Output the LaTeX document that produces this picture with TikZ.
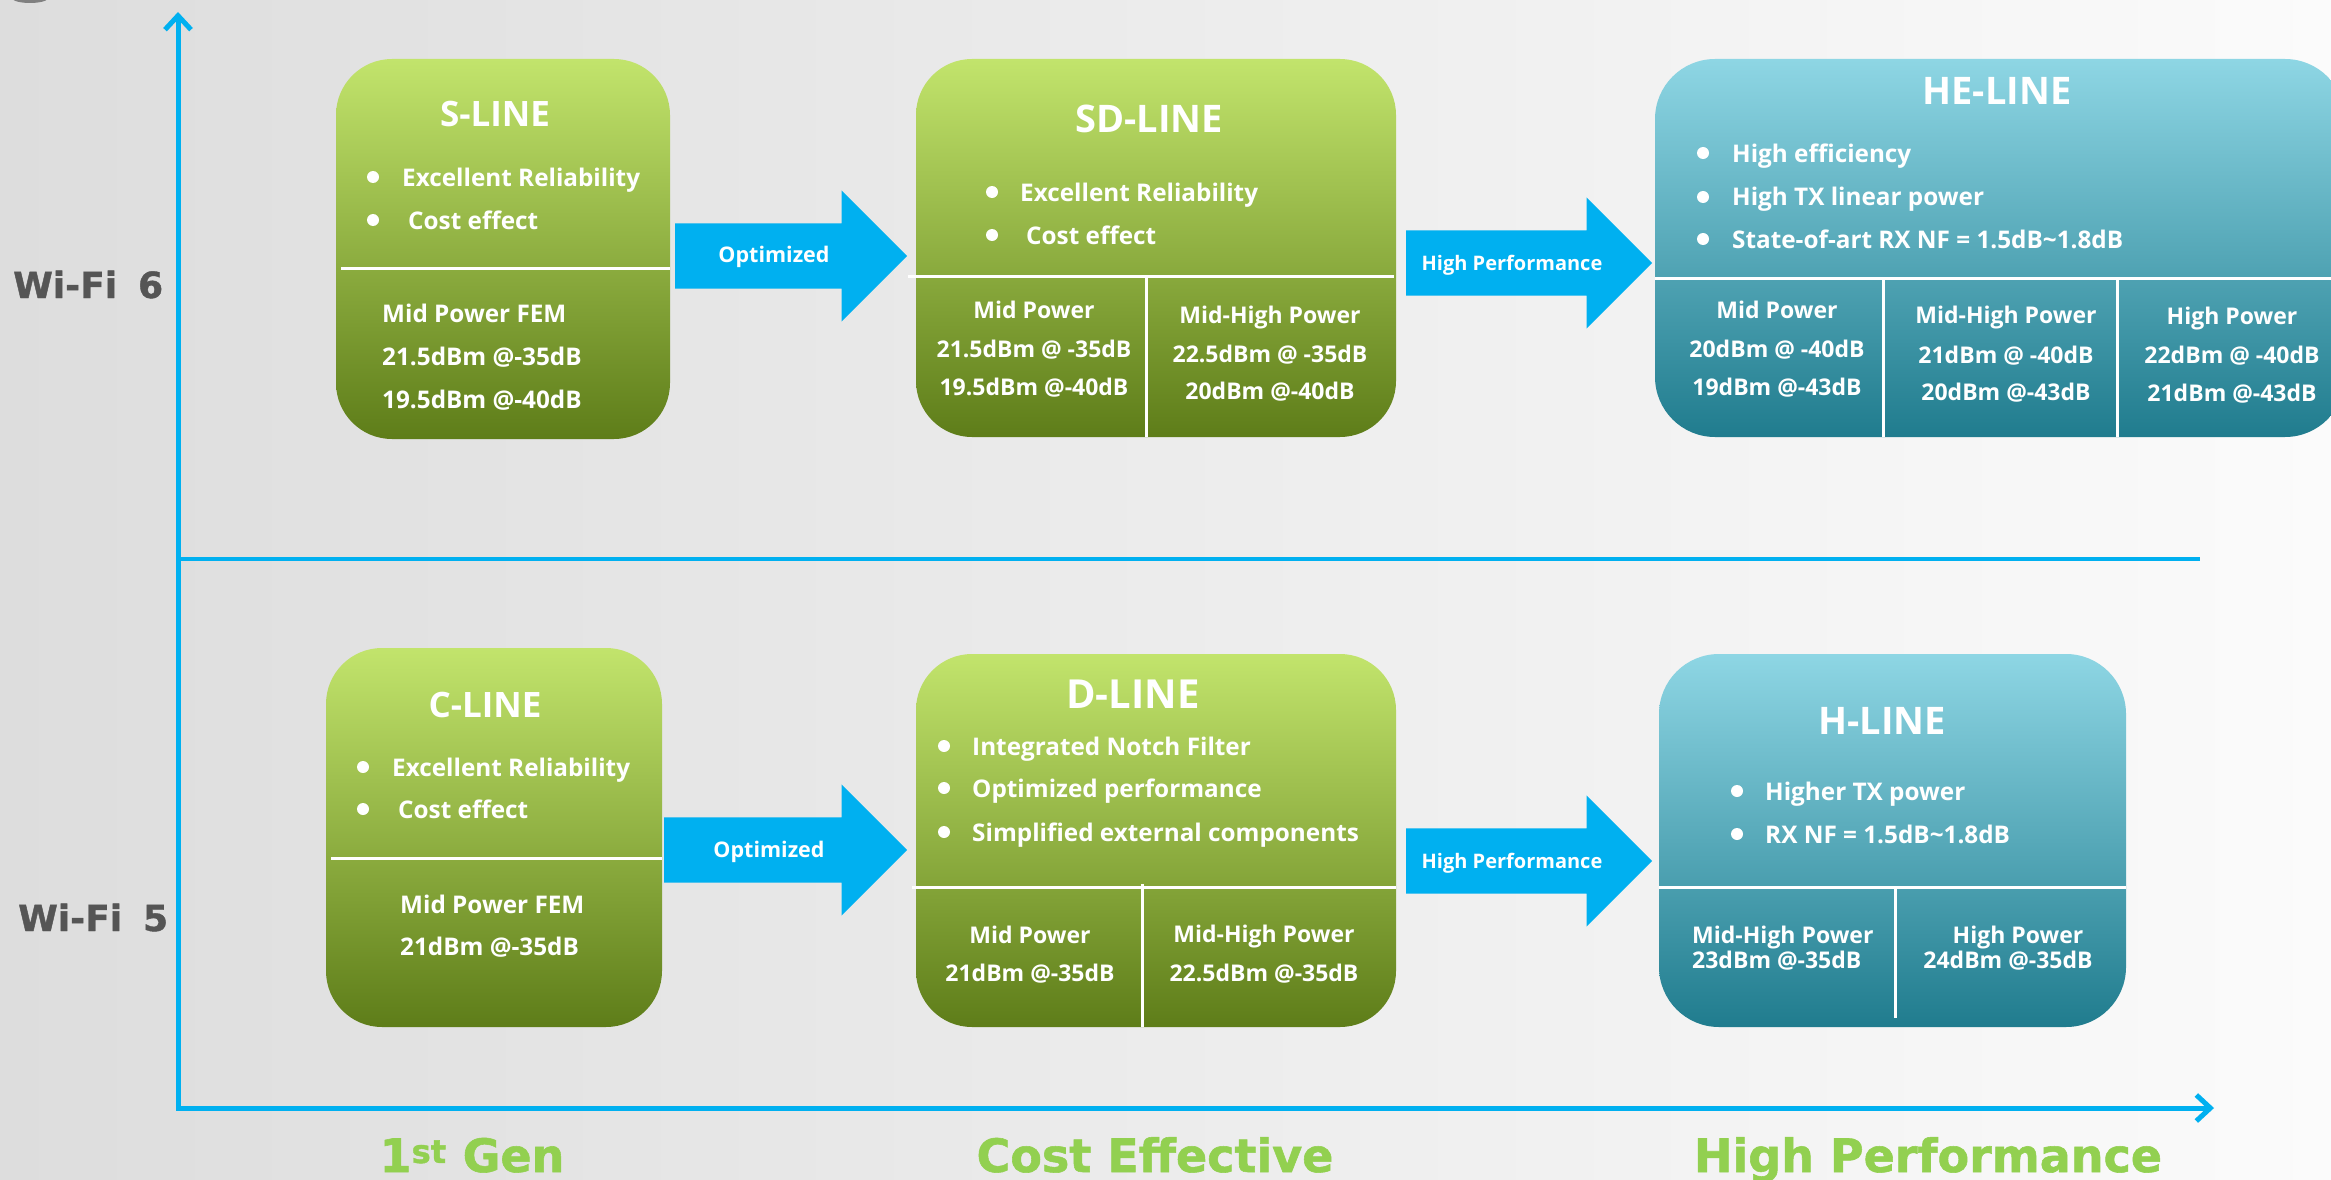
\documentclass[tikz,border=0pt]{standalone}
\usepackage{fontspec}
\setmainfont{Open Sans}
\newfontfamily\heavyfont{DejaVu Sans}[BoldFeatures={FakeBold=1.2}]
\usetikzlibrary{arrows.meta,shapes.arrows}

\definecolor{axisblue}{RGB}{0,176,240}
\definecolor{gtop}{RGB}{194,228,108}
\definecolor{gmid}{RGB}{153,196,36}
\definecolor{gbot}{RGB}{94,125,25}
\definecolor{btop}{RGB}{142,214,228}
\definecolor{bmid}{RGB}{70,186,212}
\definecolor{bbot}{RGB}{32,124,142}
\definecolor{gentext}{RGB}{146,208,80}
\definecolor{wifitext}{RGB}{85,85,85}
\definecolor{bgleft}{RGB}{221,221,221}
\definecolor{bgright}{RGB}{251,251,251}

\begin{document}
\begin{tikzpicture}[x=1pt,y=-1pt,
  every node/.style={inner sep=0pt,text=white,font=\bfseries},
  greenbox/.style={rounded corners=56pt,top color=gtop,middle color=gmid,bottom color=gbot},
  bluebox/.style={rounded corners=60pt,top color=btop,middle color=bmid,bottom color=bbot},
  title/.style={anchor=base,font=\bfseries\fontsize{38}{40}\selectfont},
  item/.style={anchor=base west,font=\bfseries\fontsize{24.3}{30}\selectfont},
  cell/.style={anchor=base,font=\bfseries\fontsize{23}{28}\selectfont},
  split/.style={white,line width=3pt},
  axis/.style={axisblue,line width=5pt},
  flow/.style={single arrow,fill=axisblue,anchor=tail,minimum height=232pt,
    inner ysep=32.5pt,single arrow head extend=33pt,single arrow tip angle=90},
  flowtext/.style={anchor=base,font=\bfseries\fontsize{21.5}{24}\selectfont},
  wifi/.style={anchor=base west,text=wifitext,font=\heavyfont\bfseries\fontsize{36}{40}\selectfont},
  gen/.style={anchor=base,text=gentext,font=\heavyfont\bfseries\fontsize{46}{50}\selectfont}]
% page, axes and the line between the two rows
\useasboundingbox (0,0) rectangle (2331,1180);
\clip (0,0) rectangle (2331,1180);
\shade[left color=bgleft,right color=bgright] (0,0) rectangle (2331,1180);
\fill[black!50] (30,-2) ellipse (18 and 5);
\coordinate (origin) at (178,1108);
\coordinate (ytop) at (178,12);
\coordinate (xend) at (2214,1108);
\draw[axis,{Straight Barb[length=14pt,width=26pt]}-{Straight Barb[length=14pt,width=26pt]}] (ytop) -- (origin) -- (xend);
\draw[axis,line width=4pt] (178,559) -- (2200,559);

% product boxes
\node[greenbox,minimum width=334pt,minimum height=380pt] (sline) at (503,249) {};
\node[greenbox,minimum width=480pt,minimum height=378pt] (sdline) at (1156,248) {};
\node[bluebox,minimum width=690pt,minimum height=378pt] (heline) at (2000,248) {};
\node[greenbox,minimum width=336pt,minimum height=379pt] (cline) at (494,837.5) {};
\node[greenbox,minimum width=480pt,minimum height=373pt] (dline) at (1156,840.5) {};
\node[bluebox,minimum width=467pt,minimum height=373pt] (hline) at (1892.5,840.5) {};

% white split lines inside the boxes
\draw[split] (341,268) -- (670,268);
\draw[split] (908,276) -- (1394,276);
\draw[split] (1146,276) -- (1146,437);
\draw[split] (1655,278) -- (2331,278);
\draw[split] (1883,278) -- (1883,437);
\draw[split] (2117,278) -- (2117,437);
\draw[split] (331,858) -- (662,858);
\draw[split] (912,887) -- (1396,887);
\draw[split] (1142,884) -- (1142,1027);
\draw[split] (1659,887) -- (2126,887);
\draw[split] (1895,887) -- (1895,1018);

% bullet dots
\foreach \p in {(373,177),(373,220),(992,192),(992,235),(1703,153),(1703,197),(1703,239),
  (363,767),(363,809),(944,746),(944,788),(944,832),(1737,791),(1737,834)}
  \fill[white] \p circle (6);

% S-LINE
\node[title,font=\bfseries\fontsize{35}{40}\selectfont] (sname) at (495,127) {S-LINE};
\node[item] (sb1) at (402,186) {Excellent Reliability};
\node[item] (sb2) at (408,229) {Cost effect};
\node[item] (sp1) at (382,322) {Mid Power FEM};
\node[item] (sp2) at (382,365) {21.5dBm @-35dB};
\node[item] (sp3) at (382,408) {19.5dBm @-40dB};

% SD-LINE
\node[title] (sdname) at (1149,132) {SD-LINE};
\node[item] (sdb1) at (1020,201) {Excellent Reliability};
\node[item] (sdb2) at (1026,244) {Cost effect};
\node[cell] (sdm1) at (1034,318) {Mid Power};
\node[cell] (sdm2) at (1034,357) {21.5dBm @ -35dB};
\node[cell] (sdm3) at (1034,395) {19.5dBm @-40dB};
\node[cell] (sdh1) at (1270,323) {Mid-High Power};
\node[cell] (sdh2) at (1270,362) {22.5dBm @ -35dB};
\node[cell] (sdh3) at (1270,399) {20dBm @-40dB};

% HE-LINE
\node[title] (hename) at (1997,105) {HE-LINE};
\node[item] (heb1) at (1732,162) {High efficiency};
\node[item] (heb2) at (1732,205) {High TX linear power};
\node[item] (heb3) at (1732,248) {State-of-art RX NF = 1.5dB\textasciitilde1.8dB};
\node[cell] (hem1) at (1777,318) {Mid Power};
\node[cell] (hem2) at (1777,357) {20dBm @ -40dB};
\node[cell] (hem3) at (1777,395) {19dBm @-43dB};
\node[cell] (hemh1) at (2006,323) {Mid-High Power};
\node[cell] (hemh2) at (2006,363) {21dBm @ -40dB};
\node[cell] (hemh3) at (2006,400) {20dBm @-43dB};
\node[cell] (heh1) at (2232,324) {High Power};
\node[cell] (heh2) at (2232,363) {22dBm @ -40dB};
\node[cell] (heh3) at (2232,401) {21dBm @-43dB};

% C-LINE
\node[title,font=\bfseries\fontsize{35}{40}\selectfont] (cname) at (485,717) {C-LINE};
\node[item] (cb1) at (392,776) {Excellent Reliability};
\node[item] (cb2) at (398,818) {Cost effect};
\node[item] (cp1) at (400,913) {Mid Power FEM};
\node[item] (cp2) at (400,955) {21dBm @-35dB};

% D-LINE
\node[title,font=\bfseries\fontsize{40}{42}\selectfont] (dname) at (1133,708) {D-LINE};
\node[item] (db1) at (972,755) {Integrated Notch Filter};
\node[item] (db2) at (972,797) {Optimized performance};
\node[item] (db3) at (972,841) {Simplified external components};
\node[cell] (dm1) at (1030,943) {Mid Power};
\node[cell] (dm2) at (1030,981) {21dBm @-35dB};
\node[cell] (dh1) at (1264,942) {Mid-High Power};
\node[cell] (dh2) at (1264,981) {22.5dBm @-35dB};

% H-LINE
\node[title] (hname) at (1882,734) {H-LINE};
\node[item] (hb1) at (1765,800) {Higher TX power};
\node[item] (hb2) at (1765,843) {RX NF = 1.5dB\textasciitilde1.8dB};
\node[cell,anchor=base west] (hmh1) at (1692,943) {Mid-High Power};
\node[cell,anchor=base west] (hmh2) at (1692,968) {23dBm @-35dB};
\node[cell] (hh1) at (2018,943) {High Power};
\node[cell] (hh2) at (2008,968) {24dBm @-35dB};

% block arrows between the boxes
\node[flow] (optA) at (675,256) {};
\node[flowtext] (optAtext) at (774,262) {Optimized};
\node[flow,minimum height=246pt] (perfA) at (1406,263) {};
\node[flowtext,font=\bfseries\fontsize{20}{24}\selectfont] (perfAtext) at (1512,270) {High Performance};
\node[flow,minimum height=243pt] (optB) at (664,850) {};
\node[flowtext] (optBtext) at (769,857) {Optimized};
\node[flow,minimum height=246pt] (perfB) at (1406,861) {};
\node[flowtext,font=\bfseries\fontsize{20}{24}\selectfont] (perfBtext) at (1512,868) {High Performance};

% axis labels
\node[wifi] (wifi6) at (13,298) {Wi-Fi\hspace{21pt}6};
\node[wifi] (wifi5) at (18,931) {Wi-Fi\hspace{21pt}5};
\node[gen] (genFirst) at (472,1172) {1\textsuperscript{st} Gen};
\node[gen] (genCost) at (1155,1172) {Cost Effective};
\node[gen] (genPerf) at (1928,1172) {High Performance};
\end{tikzpicture}
\end{document}
